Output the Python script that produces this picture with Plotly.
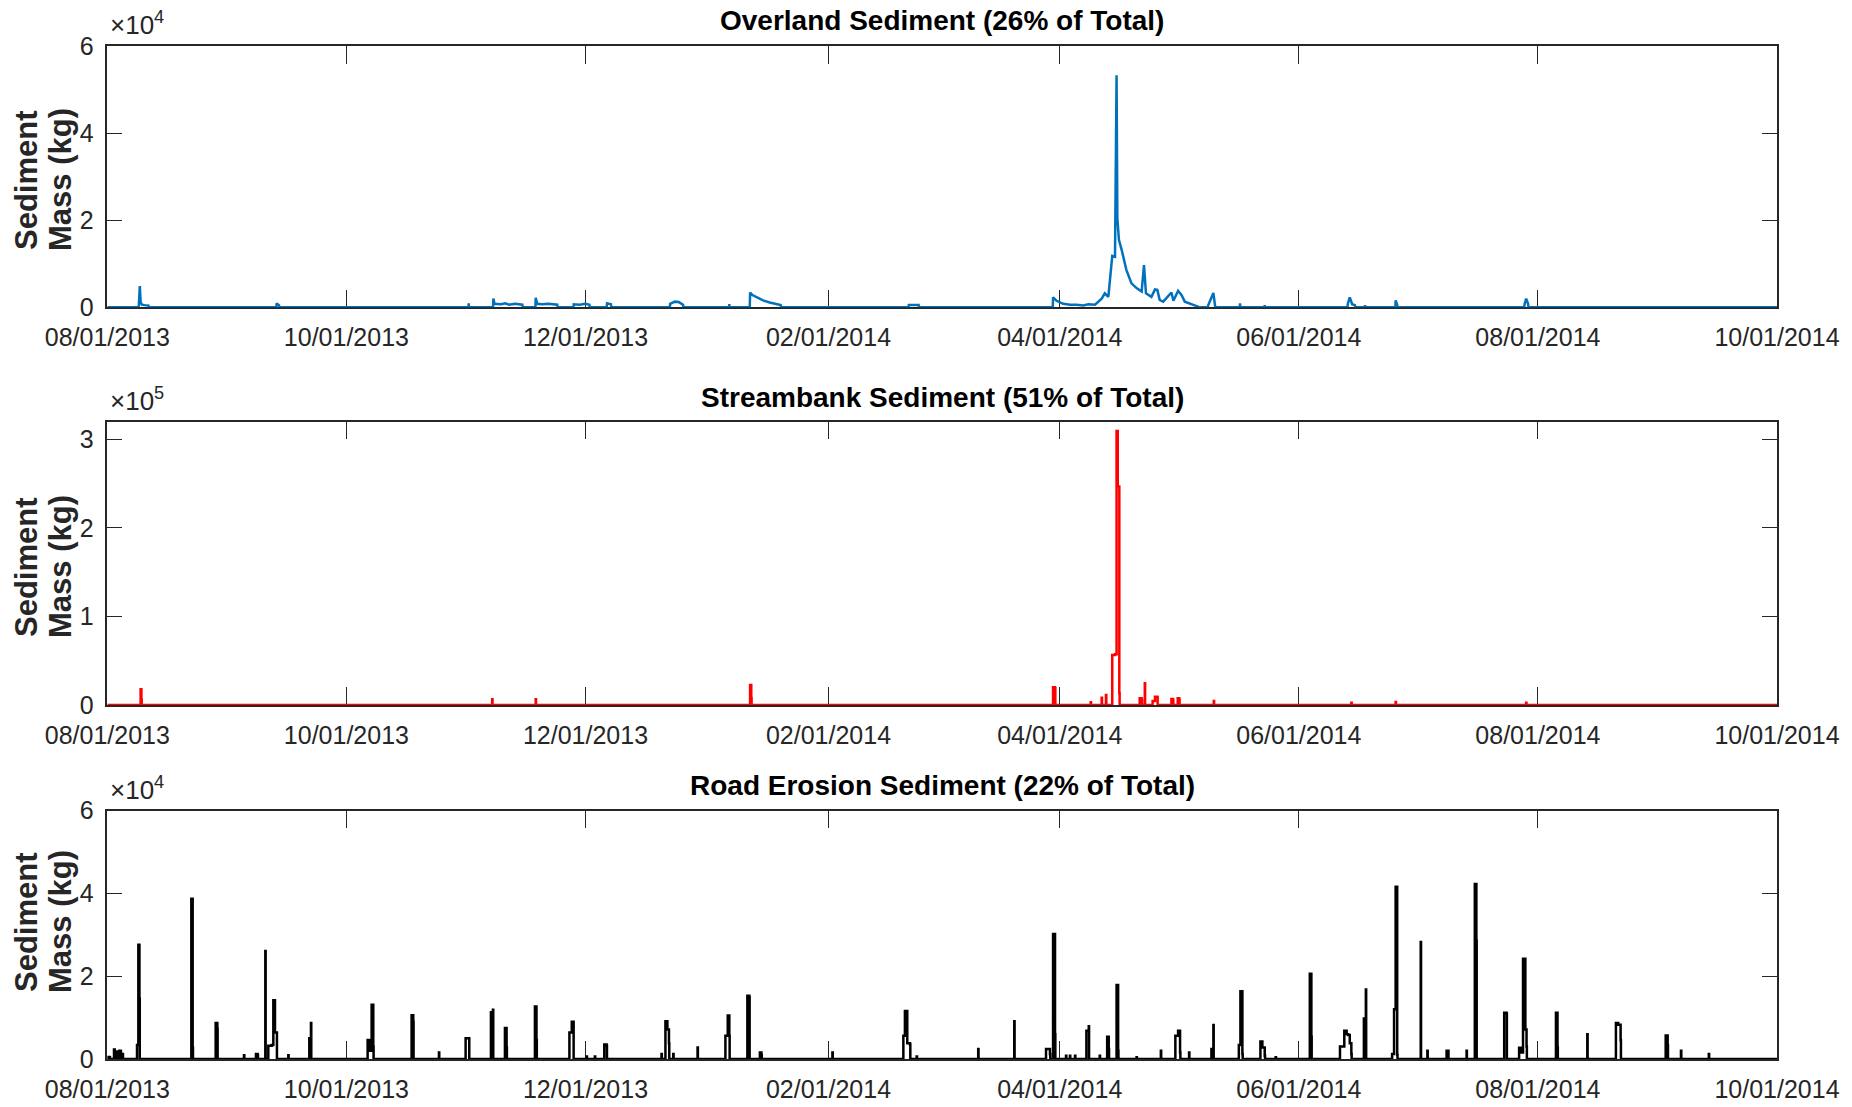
import pandas as pd
import plotly.graph_objects as go
from plotly.subplots import make_subplots

# ---------------- data ----------------
START = "2013-08-01"
END = "2014-10-01"
TICK_LABELS = ["08/01/2013", "10/01/2013", "12/01/2013", "02/01/2014",
               "04/01/2014", "06/01/2014", "08/01/2014", "10/01/2014"]

TITLES = ["Overland Sediment (26% of Total)",
          "Streambank Sediment (51% of Total)",
          "Road Erosion Sediment (22% of Total)"]

# each event: list of [days since START, sediment mass kg]; baseline is 0 kg between events
OVERLAND_EVENTS = [
    [[8.1, 1500], [8.3, 4900], [8.5, 1200], [8.8, 600], [9.5, 500], [10.5, 400]],
    [[43.2, 900], [43.8, 500]],
    [[92.2, 900]],
    [[98.5, 2000], [98.8, 800], [100.5, 700], [101.5, 900], [102.5, 600], [104.0, 800], [105.9, 600]],
    [[109.3, 2200], [109.7, 800], [111.0, 700], [112.5, 800], [114.8, 600]],
    [[119.0, 700], [120.5, 600], [122.0, 800], [123.0, 600]],
    [[127.5, 900], [128.5, 700]],
    [[143.6, 800], [144.8, 1300], [145.8, 1200], [146.9, 600]],
    [[158.7, 700]],
    [[164.0, 3400], [164.6, 2800], [165.8, 2200], [167.3, 1600], [169.0, 1100], [171.8, 500]],
    [[204.5, 500], [207.0, 500]],
    [[241.3, 2300], [242.2, 1500], [243.9, 800], [245.6, 600], [247.3, 600], [249.0, 400],
     [250.3, 700], [252.0, 600], [253.7, 2000], [254.5, 3200], [255.4, 2400], [256.4, 11800],
     [257.1, 11600], [257.5, 53300], [257.7, 20400], [258.1, 15500], [258.8, 13200],
     [260.0, 8600], [261.3, 5500], [262.6, 4400], [263.9, 3600], [264.5, 9700], [265.0, 3200],
     [266.4, 2400], [267.3, 4100], [267.9, 4000], [268.5, 1700], [269.4, 1300], [271.5, 3400],
     [272.0, 1500], [273.2, 3800], [274.1, 2800], [274.9, 1300], [276.2, 900], [277.5, 500],
     [278.7, 200]],
    [[280.9, 500], [282.2, 3300], [282.6, 300]],
    [[289.0, 900]],
    [[295.3, 500]],
    [[316.5, 800], [317.0, 2300], [317.6, 700], [318.3, 500]],
    [[320.9, 500]],
    [[328.7, 1600], [329.1, 600]],
    [[361.6, 700], [362.0, 2000], [362.5, 800]],
]

STREAMBANK_EVENTS = [
    [[8.5, 17700], [8.7, 6000]],
    [[98.2, 6400]],
    [[109.3, 6400]],
    [[164.0, 22600], [164.3, 7500]],
    [[241.3, 20000], [241.8, 18800]],
    [[250.9, 3000]],
    [[253.7, 8300]],
    [[254.8, 11300]],
    [[256.4, 56500], [257.1, 57200], [257.5, 309600], [257.8, 246700], [258.2, 13200]],
    [[263.4, 7500], [263.9, 5600]],
    [[264.7, 24500]],
    [[266.7, 4500], [267.3, 9400], [267.9, 9000]],
    [[271.5, 6800], [271.9, 5600]],
    [[273.1, 7500], [273.5, 5600]],
    [[282.3, 4500]],
    [[317.4, 2600]],
    [[328.7, 3500]],
    [[362.0, 2600]],
]

ROAD_EVENTS = [
    [[0.26, 500], [0.6, 400]],
    [[1.71, 2300], [1.9, 1800]],
    [[2.39, 1800]],
    [[3.07, 2000], [3.41, 1800]],
    [[3.92, 1200]],
    [[7.58, 3400], [7.75, 3400], [7.92, 27600], [8.2, 14600]],
    [[21.44, 38700], [21.78, 2700]],
    [[27.65, 8700], [28.07, 7300]],
    [[34.87, 900]],
    [[37.93, 1200], [38.36, 900]],
    [[40.32, 26100]],
    [[41.08, 3200], [41.93, 3400], [42.36, 14200], [42.78, 6400], [43.2, 6400]],
    [[46.18, 900]],
    [[51.54, 5000], [51.96, 8700]],
    [[66.42, 4600], [67.01, 2000], [67.44, 13100], [67.86, 3000]],
    [[77.64, 10600], [78.06, 9000]],
    [[84.61, 1600]],
    [[91.42, 5000], [92.27, 5000]],
    [[97.88, 11300], [98.39, 11900]],
    [[101.45, 7500], [101.87, 2800]],
    [[109.1, 12700], [109.5, 4600]],
    [[117.9, 6400], [118.5, 9000], [118.9, 9000]],
    [[122.3, 600]],
    [[124.4, 600]],
    [[126.8, 3500], [127.4, 3200]],
    [[141.4, 1200]],
    [[142.4, 9100], [142.9, 7100], [143.3, 3800]],
    [[144.4, 1200]],
    [[150.6, 2800]],
    [[157.7, 5600], [158.3, 10500], [158.7, 5600]],
    [[163.3, 15300], [163.8, 15000]],
    [[166.5, 1600], [166.9, 900]],
    [[185.0, 1600]],
    [[203.1, 5600], [203.5, 11600], [204.1, 3800], [204.8, 3500]],
    [[206.5, 600]],
    [[222.2, 2400]],
    [[231.4, 9100]],
    [[239.5, 2400], [240.5, 1200]],
    [[241.3, 30200], [241.8, 6000]],
    [[244.6, 800]],
    [[245.6, 800]],
    [[246.9, 800]],
    [[249.8, 6800], [250.4, 7900]],
    [[253.2, 800]],
    [[255.1, 5400], [255.5, 2400]],
    [[257.5, 17900], [257.9, 2000]],
    [[262.6, 400]],
    [[268.8, 2000]],
    [[272.5, 5600], [273.2, 6800], [273.7, 1600]],
    [[276.0, 1600]],
    [[281.7, 2400], [282.2, 8200]],
    [[288.7, 3400], [289.1, 16400], [289.6, 1200]],
    [[294.2, 4200], [294.7, 2800], [295.3, 800]],
    [[298.1, 400]],
    [[306.8, 20600], [307.2, 5400]],
    [[314.5, 3000], [315.6, 6800], [316.2, 6000], [316.6, 5800], [317.0, 3800], [317.4, 1200]],
    [[320.6, 9800], [321.1, 16800]],
    [[327.8, 1200], [328.3, 12000], [328.7, 41600], [329.1, 1000]],
    [[335.1, 28300]],
    [[336.8, 2000]],
    [[341.7, 2000], [342.1, 2000]],
    [[346.8, 2000]],
    [[348.9, 42300], [349.3, 28600]],
    [[356.4, 11200], [357.0, 11000]],
    [[360.2, 2700], [360.6, 1600], [361.2, 24200], [361.8, 7100], [362.1, 3000]],
    [[369.6, 11200], [370.0, 2800]],
    [[377.6, 6000]],
    [[384.9, 8700], [385.5, 8300], [386.1, 4600]],
    [[397.6, 5700], [398.1, 3400]],
    [[401.5, 2000]],
    [[408.6, 1200]],
]

Y_MAX = [6e4, 3.2e5, 6e4]
Y_TICKS = [[0, 2e4, 4e4, 6e4], [0, 1e5, 2e5, 3e5], [0, 2e4, 4e4, 6e4]]
Y_TICK_TEXT = [["0", "2", "4", "6"], ["0", "1", "2", "3"], ["0", "2", "4", "6"]]
EXPONENTS = [4, 5, 4]
COLORS = ["#0072BD", "#FF0000", "#000000"]
LINE_SHAPES = ["linear", "hv", "hv"]

# ---------------- figure ----------------
W, H = 1852, 1107
FONT = "Liberation Sans, Arial, Helvetica, sans-serif"
AX = "#262626"

start = pd.Timestamp(START)
span = (pd.Timestamp(END) - start).days


def build(events):
    days, kg = [0.0], [0.0]
    for ev in events:
        days.append(ev[0][0] - 0.08)
        kg.append(0.0)
        for d, v in ev:
            days.append(d)
            kg.append(v)
        days.append(ev[-1][0] + 0.08)
        kg.append(0.0)
    days.append(float(span))
    kg.append(0.0)
    x = start + pd.to_timedelta(days, unit="D")
    return x, kg


tickvals = [pd.to_datetime(t, format="%m/%d/%Y") for t in TICK_LABELS]

# panel pixel boxes (top, bottom)
PANELS = [(46.0, 307.3), (421.7, 705.0), (810.7, 1059.0)]
XL, XR = 107.3, 1777.0
TITLE_Y = [21, 397, 785]
YLAB_Y = [180, 567, 922]

fig = make_subplots(rows=3, cols=1)
series = [OVERLAND_EVENTS, STREAMBANK_EVENTS, ROAD_EVENTS]
for i, ev in enumerate(series):
    x, y = build(ev)
    fig.add_trace(go.Scatter(x=x, y=y, mode="lines",
                             line=dict(color=COLORS[i], width=2.5, shape=LINE_SHAPES[i]),
                             hoverinfo="skip", showlegend=False), row=i + 1, col=1)

annotations = []
for i in range(3):
    top, bot = PANELS[i]
    xa = "xaxis" if i == 0 else f"xaxis{i+1}"
    ya = "yaxis" if i == 0 else f"yaxis{i+1}"
    fig.layout[xa].update(
        domain=[XL / W, XR / W], type="date", automargin=False,
        range=[start, pd.Timestamp(END)],
        tickvals=tickvals, ticktext=TICK_LABELS,
        ticks="inside", ticklen=18, tickwidth=1.3, tickcolor=AX,
        showline=True, linecolor=AX, linewidth=1.5, mirror="allticks",
        showgrid=False, zeroline=False, layer="below traces",
        tickfont=dict(family=FONT, size=25, color=AX),
        ticklabelstandoff=7,
    )
    fig.layout[ya].update(
        domain=[1 - bot / H, 1 - top / H], automargin=False,
        range=[0, Y_MAX[i]],
        tickvals=Y_TICKS[i], ticktext=Y_TICK_TEXT[i],
        ticks="inside", ticklen=15, tickwidth=1.3, tickcolor=AX,
        showline=True, linecolor=AX, linewidth=1.5, mirror="allticks",
        showgrid=False, zeroline=False, layer="below traces",
        tickfont=dict(family=FONT, size=25, color=AX),
        ticklabelstandoff=7,
    )
    annotations.append(dict(
        xref="paper", yref="paper", x=(XL + XR) / 2 / W, y=1 - TITLE_Y[i] / H,
        xanchor="center", yanchor="middle", showarrow=False,
        text=f"<b>{TITLES[i]}</b>", font=dict(family=FONT, size=28, color="#000000")))
    annotations.append(dict(
        xref="paper", yref="paper", x=26 / W, y=1 - YLAB_Y[i] / H,
        xanchor="center", yanchor="middle", showarrow=False, textangle=-90,
        text="<b>Sediment</b>", font=dict(family=FONT, size=31, color="#262626")))
    annotations.append(dict(
        xref="paper", yref="paper", x=60 / W, y=1 - YLAB_Y[i] / H,
        xanchor="center", yanchor="middle", showarrow=False, textangle=-90,
        text="<b>Mass (kg)</b>", font=dict(family=FONT, size=31, color="#262626")))
    annotations.append(dict(
        xref="paper", yref="paper", x=(XL + 1) / W, y=1 - (top - 4) / H,
        xanchor="left", yanchor="bottom", showarrow=False,
        text=f"×10<sup>{EXPONENTS[i]}</sup>", font=dict(family=FONT, size=26, color=AX)))

fig.update_layout(
    width=W, height=H, margin=dict(l=0, r=0, t=0, b=0, autoexpand=False),
    paper_bgcolor="white", plot_bgcolor="white",
    annotations=annotations, showlegend=False,
)

fig.write_html("out.html")
